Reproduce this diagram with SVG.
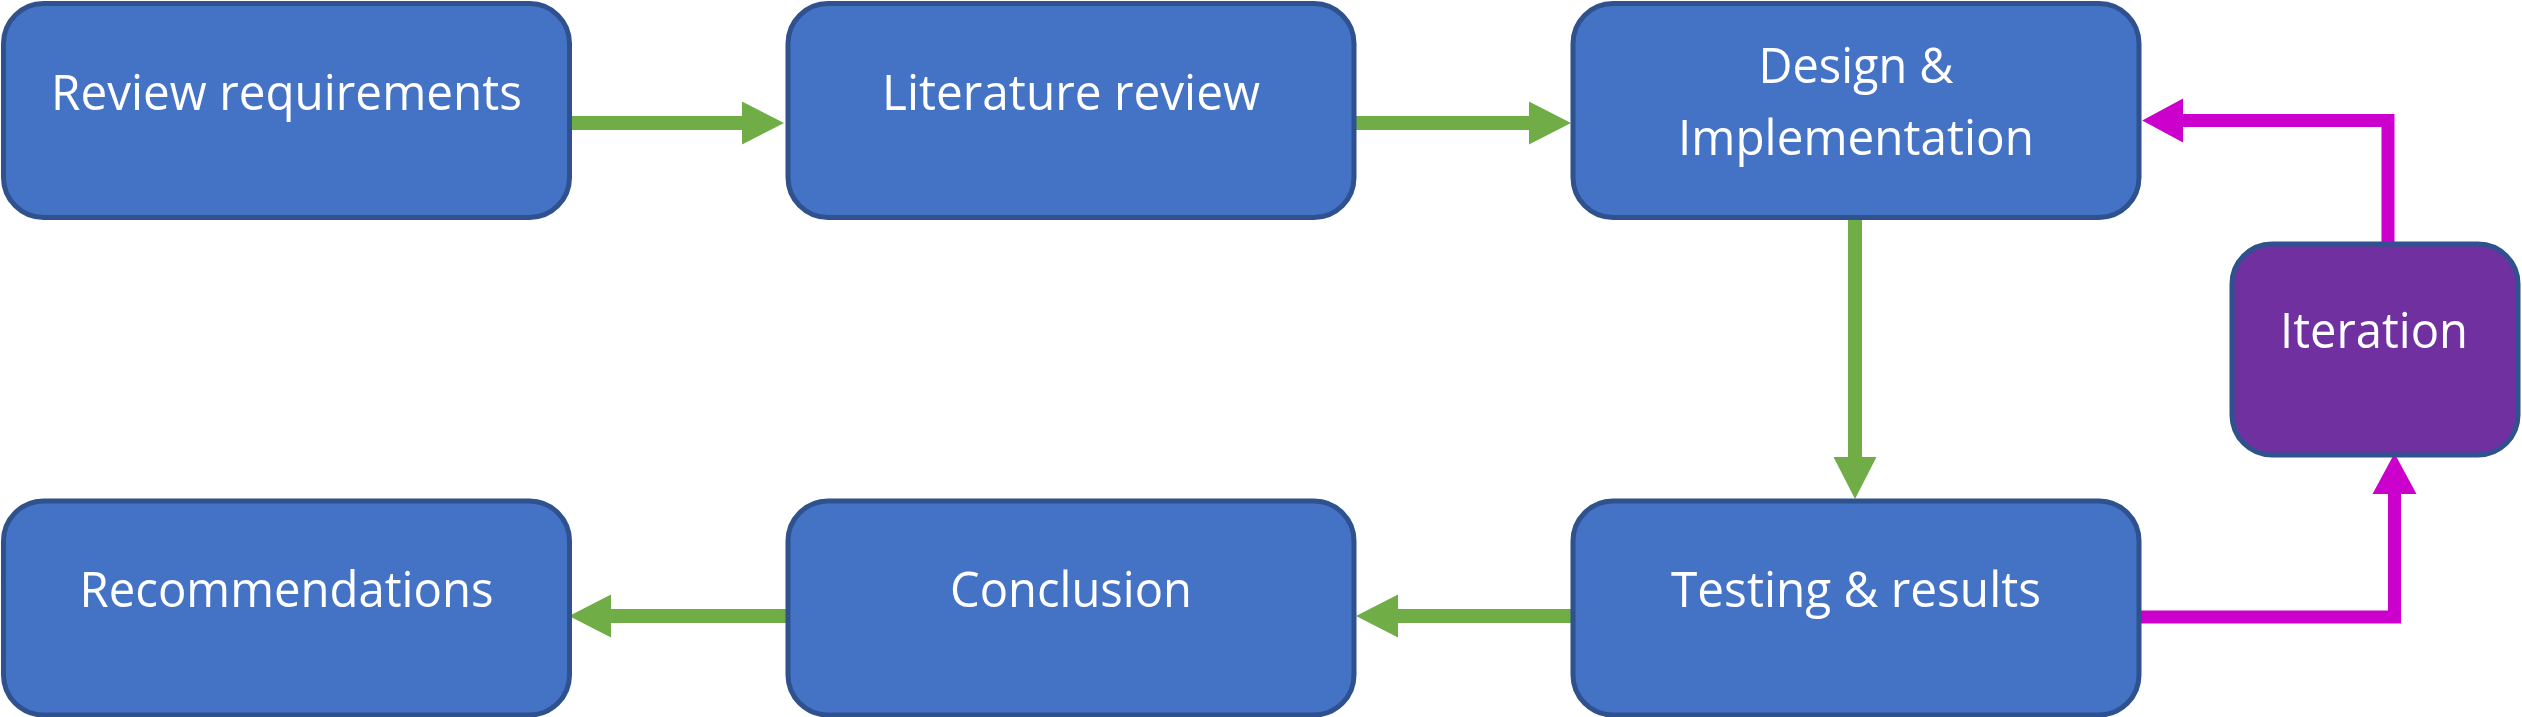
<svg xmlns="http://www.w3.org/2000/svg" width="2522" height="717" viewBox="0 0 2522 717">
<style>
.box{fill:#4472C4;stroke:#2F528F;stroke-width:5}
.iter{fill:#7030A0;stroke:#2F528F;stroke-width:5}
.lbl{font-family:"Open Sans","Liberation Sans",sans-serif;font-size:50px;fill:#FFFFFF;text-anchor:middle}
.g{stroke:#70AD47;stroke-width:14;fill:none}
.m{stroke:#CC00CC;stroke-width:13;fill:none;stroke-linejoin:miter}
</style>
<defs>
<marker id="ag" markerUnits="userSpaceOnUse" markerWidth="44" markerHeight="46" refX="1" refY="21.5" orient="auto" viewBox="0 0 44 43" overflow="visible">
<path d="M0,0 L42,21.5 L0,43 Z" fill="#70AD47"/>
</marker>
<marker id="am" markerUnits="userSpaceOnUse" markerWidth="42" markerHeight="44" refX="1" refY="21" orient="auto" viewBox="0 0 40 42" overflow="visible">
<path d="M0,0 L39,21 L0,42 Z" fill="#CC00CC"/>
</marker>
</defs>
<g id="connectors">
<line class="g" x1="572" y1="123" x2="743" y2="123" marker-end="url(#ag)"/>
<line class="g" x1="1356" y1="123" x2="1530" y2="123" marker-end="url(#ag)"/>
<line class="g" x1="1855" y1="218" x2="1855" y2="458" marker-end="url(#ag)"/>
<line class="g" x1="1571" y1="616" x2="1397" y2="616" marker-end="url(#ag)"/>
<line class="g" x1="786" y1="616" x2="610" y2="616" marker-end="url(#ag)"/>
<path class="m" d="M2141,617 H2394.5 V493" marker-end="url(#am)"/>
<path class="m" d="M2388,250 V120.5 H2182" marker-end="url(#am)"/>
</g>
<g id="review-requirements">
<rect class="box" x="3.5" y="3.5" width="566" height="214" rx="40" ry="40"/>
<text class="lbl" x="286.5" y="110" textLength="471" lengthAdjust="spacingAndGlyphs">Review requirements</text>
</g>
<g id="literature-review">
<rect class="box" x="788" y="3.5" width="566" height="214" rx="40" ry="40"/>
<text class="lbl" x="1071" y="110" textLength="378" lengthAdjust="spacingAndGlyphs">Literature review</text>
</g>
<g id="design-implementation">
<rect class="box" x="1573" y="3.5" width="566" height="214" rx="40" ry="40"/>
<text class="lbl" x="1856" y="83" textLength="195" lengthAdjust="spacingAndGlyphs">Design &amp;</text>
<text class="lbl" x="1856" y="155" textLength="356" lengthAdjust="spacingAndGlyphs">Implementation</text>
</g>
<g id="iteration">
<rect class="iter" x="2232" y="244" width="286" height="211" rx="40" ry="40"/>
<text class="lbl" x="2374" y="348" textLength="188" lengthAdjust="spacingAndGlyphs">Iteration</text>
</g>
<g id="recommendations">
<rect class="box" x="3.5" y="501" width="566" height="214" rx="40" ry="40"/>
<text class="lbl" x="286.5" y="607" textLength="414" lengthAdjust="spacingAndGlyphs">Recommendations</text>
</g>
<g id="conclusion">
<rect class="box" x="788" y="501" width="566" height="214" rx="40" ry="40"/>
<text class="lbl" x="1071" y="607" textLength="242" lengthAdjust="spacingAndGlyphs">Conclusion</text>
</g>
<g id="testing-results">
<rect class="box" x="1573" y="501" width="566" height="214" rx="40" ry="40"/>
<text class="lbl" x="1856" y="607" textLength="370" lengthAdjust="spacingAndGlyphs">Testing &amp; results</text>
</g>
</svg>
